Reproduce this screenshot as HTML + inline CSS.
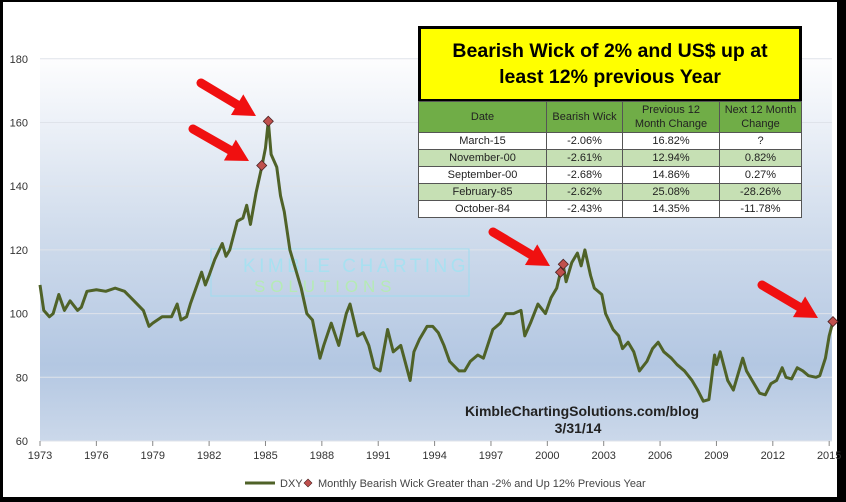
<!DOCTYPE html>
<html><head><meta charset="utf-8"><style>
body{margin:0;width:846px;height:502px;overflow:hidden;background:#000;font-family:"Liberation Sans",sans-serif}
#wrap{position:absolute;left:3px;top:2px;width:834px;height:495px;background:#fff}
svg{position:absolute;left:0;top:0}
#title{position:absolute;left:418px;top:26px;width:378px;background:#ffff00;border:3px solid #000;font-weight:bold;font-size:19.5px;text-align:center;line-height:26px;padding-top:9px;box-sizing:content-box;height:61px}
table{position:absolute;left:418px;top:101px;width:384px;border-collapse:collapse;font-size:11px;color:#222;background:#fff}
td,th{border:1px solid #555;text-align:center;padding:0;height:16px;font-weight:normal}
th{background:#70ad47;color:#222;height:30px;line-height:14px}
tr.g td{background:#c6e0b4}
</style></head><body>
<div id="wrap"></div>
<svg id="c" width="846" height="502">
<defs><linearGradient id="bg" x1="0" y1="0" x2="0" y2="1">
<stop offset="0" stop-color="#fdfdfe"/><stop offset="0.45" stop-color="#d0dcec"/><stop offset="0.8" stop-color="#b3c7e2"/><stop offset="1" stop-color="#cbd8ea"/></linearGradient></defs>
</svg>
<div id="title">Bearish Wick of 2% and US$ up at<br>least 12% previous Year</div>
<table>
<tr><th style="width:127px">Date</th><th style="width:75px">Bearish Wick</th><th style="width:96px">Previous 12<br>Month Change</th><th>Next 12 Month<br>Change</th></tr>
<tr><td>March-15</td><td>-2.06%</td><td>16.82%</td><td>?</td></tr>
<tr class="g"><td>November-00</td><td>-2.61%</td><td>12.94%</td><td>0.82%</td></tr>
<tr><td>September-00</td><td>-2.68%</td><td>14.86%</td><td>0.27%</td></tr>
<tr class="g"><td>February-85</td><td>-2.62%</td><td>25.08%</td><td>-28.26%</td></tr>
<tr><td>October-84</td><td>-2.43%</td><td>14.35%</td><td>-11.78%</td></tr>
</table>
<script>
const years=[1973,1973.2,1973.5,1973.7,1974,1974.3,1974.6,1975,1975.2,1975.5,1976,1976.5,1977,1977.5,1978,1978.5,1978.8,1979,1979.5,1980,1980.3,1980.5,1980.8,1981,1981.3,1981.6,1981.8,1982,1982.3,1982.7,1982.9,1983.1,1983.5,1983.8,1984,1984.2,1984.5,1984.8,1985,1985.15,1985.3,1985.6,1985.8,1986,1986.3,1986.6,1986.9,1987.2,1987.5,1987.9,1988.1,1988.5,1988.9,1989.3,1989.5,1989.9,1990.2,1990.5,1990.8,1991.1,1991.5,1991.8,1992.2,1992.7,1992.9,1993.2,1993.6,1993.9,1994.2,1994.5,1994.8,1995.3,1995.6,1995.9,1996.3,1996.6,1997.1,1997.5,1997.8,1998.2,1998.6,1998.8,1999.1,1999.5,1999.9,2000.2,2000.5,2000.7,2000.85,2001,2001.3,2001.6,2001.8,2002,2002.3,2002.5,2002.9,2003.1,2003.5,2003.8,2004,2004.3,2004.6,2004.9,2005.3,2005.6,2005.9,2006.2,2006.6,2006.9,2007.3,2007.7,2008,2008.3,2008.6,2008.9,2009,2009.2,2009.6,2009.9,2010.4,2010.6,2010.9,2011.3,2011.6,2011.9,2012.2,2012.5,2012.7,2013,2013.3,2013.6,2013.9,2014.3,2014.5,2014.8,2015,2015.2];
const dxy=[109,101,99,100,106,101,104,101,102,107,107.5,107,108,107,104,101,96,97,99,99,103,98,99,103,108,113,109,112,117,122,118,120,129,130,134,128,138,146,152,160.4,150,146,137,132,120,114,108,100,98,86,90,97,90,100,103,93,94,90,83,82,95,88,90,79,88,92,96,96,94,90,85,82,82,85,87,86,95,97,100,100,101,93,97,103,100,105,108,113,115,110,116,119,115,120,112,108,106,100,95,93,89,91,88,82,85,89,91,88,86,84,82,79,76,72.5,73,87,84,88,79,76,86,82,79,75,74.5,78,79,83,80,79.5,83,82,80.5,80,80.5,86,93,97.5];
const markYears=[1984.8,1985.15,2000.7,2000.85,2015.2];
const markVals=[146.5,160.4,113,115.5,97.5];
const yTicks=[60,80,100,120,140,160,180];
const xTicks=[1973,1976,1979,1982,1985,1988,1991,1994,1997,2000,2003,2006,2009,2012,2015];
const NS='http://www.w3.org/2000/svg';
const svg=document.getElementById('c');
const X=y=>40+(y-1973)*18.79, Y=v=>441-(v-60)*3.185;
function mk(t,a,p){const e=document.createElementNS(NS,t);for(const k in a)e.setAttribute(k,a[k]);(p||svg).appendChild(e);return e;}
let r=mk('rect',{x:40,y:59,width:792,height:382,fill:'url(#bg)'});


yTicks.forEach(v=>{
 let g=mk('line',{x1:40,x2:832,y1:Y(v),y2:Y(v),stroke:'#dfe3ea','stroke-width':1});
 
 
 let t=mk('text',{x:28,y:Y(v)+4,'text-anchor':'end','font-size':11,fill:'#333'});t.textContent=v;
 
 
});
xTicks.forEach(v=>{
 let l=mk('line',{x1:X(v),x2:X(v),y1:441,y2:446,stroke:'#888'});
 
 
 let t=mk('text',{x:X(v),y:459,'text-anchor':'middle','font-size':11,fill:'#333'});t.textContent=v;
 
 
});
let wm=mk('rect',{x:211,y:249,width:258,height:47,fill:'none',stroke:'#9fdcef','stroke-width':1});


let w1=mk('text',{x:243,y:272,'font-size':19,fill:'#a8e0f0','letter-spacing':2.5,textLength:225});w1.textContent='KIMBLE CHARTING';


let w2=mk('text',{x:254,y:292,'font-size':17,fill:'#b5eab5','letter-spacing':2.5,textLength:140});w2.textContent='SOLUTIONS';


let ln=mk('polyline',{points:years.map((y,i)=>X(y)+','+Y(dxy[i])).join(' '),fill:'none',stroke:'#4f6228','stroke-width':3,'stroke-linejoin':'round'});


markYears.forEach((y,i)=>{
 let cx=X(y),cy=Y(markVals[i]);
 let d=mk('polygon',{points:`${cx},${cy-5} ${cx+5},${cy} ${cx},${cy+5} ${cx-5},${cy}`,fill:'#c0504d',stroke:'#4a2020','stroke-width':0.8});
 
 
});
function arrow(x1,y1,x2,y2){
 const a=Math.atan2(y2-y1,x2-x1),L=22,W=12;
 const bx=x2-L*Math.cos(a),by=y2-L*Math.sin(a);
 let l=mk('line',{x1,y1,x2:bx,y2:by,stroke:'#f01010','stroke-width':9,'stroke-linecap':'round'});
 
 
 const px=-Math.sin(a)*W,py=Math.cos(a)*W;
 let h=mk('polygon',{points:`${x2},${y2} ${bx+px},${by+py} ${bx-px},${by-py}`,fill:'#f01010'});
 
 
}
arrow(201,83,256,116);arrow(193,129,249,161);arrow(493,232,550,266);arrow(762,285,818,318);
let s1=mk('text',{x:582,y:416,'text-anchor':'middle','font-size':14,'font-weight':'bold',fill:'#222'});s1.textContent='KimbleChartingSolutions.com/blog';


let s2=mk('text',{x:578,y:433,'text-anchor':'middle','font-size':14,'font-weight':'bold',fill:'#222'});s2.textContent='3/31/14';


let lg=mk('line',{x1:245,x2:275,y1:483,y2:483,stroke:'#4f6228','stroke-width':3});


let lt=mk('text',{x:280,y:487,'font-size':11,fill:'#444'});lt.textContent='DXY';


let ld=mk('polygon',{points:'308,479 312,483 308,487 304,483',fill:'#c0504d',stroke:'#4a2020','stroke-width':0.6});


let lt2=mk('text',{x:318,y:487,'font-size':11,fill:'#444'});lt2.textContent='Monthly Bearish Wick Greater than -2% and Up 12% Previous Year';


</script>
</body></html>
